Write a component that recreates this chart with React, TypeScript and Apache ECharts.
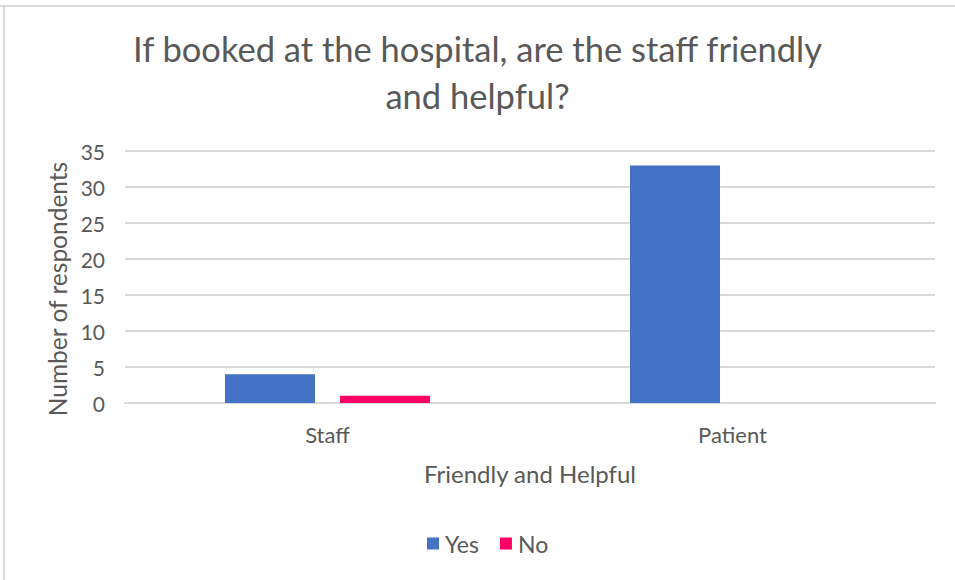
import React, { useEffect, useRef } from "react";
import * as echarts from "echarts";

const categories = ["Staff", "Patient"];
const yesValues = [4, 33];
const noValues = [1, 0];
const seriesNames = ["Yes", "No"];

const FONT = "Lato";
const GRAY = "#595959";

export default function App() {
  const ref = useRef<HTMLDivElement>(null);
  useEffect(() => {
    if (!ref.current) return;
    const chart = echarts.init(ref.current, undefined, { renderer: "svg" });
    chart.setOption({
      animation: false,
      backgroundColor: "#ffffff",
      textStyle: { fontFamily: FONT, color: GRAY },
      title: {
        text: "If booked at the hospital, are the staff friendly\nand helpful?",
        left: "center",
        top: 20,
        textStyle: { fontFamily: FONT, fontSize: 34.5, fontWeight: "normal", color: GRAY, lineHeight: 47 },
      },
      graphic: [
        { type: "line", shape: { x1: 0, y1: 6, x2: 955, y2: 6 }, style: { stroke: "#d9d9d9", lineWidth: 2 } },
        { type: "line", shape: { x1: 4, y1: 6, x2: 4, y2: 580 }, style: { stroke: "#d9d9d9", lineWidth: 2 } },
      ],
      legend: {
        data: seriesNames,
        bottom: 20,
        left: 422,
        itemWidth: 12,
        itemHeight: 12,
        itemGap: 21,
        icon: "rect",
        textStyle: { fontFamily: FONT, fontSize: 23, color: GRAY, padding: [0, 0, 0, 1] },
      },
      grid: { left: 125, right: 20, top: 151, bottom: 177 },
      xAxis: {
        type: "category",
        data: categories,
        name: "Friendly and Helpful",
        nameLocation: "middle",
        nameGap: 58,
        nameTextStyle: { fontFamily: FONT, fontSize: 24, color: GRAY },
        axisLine: { lineStyle: { color: "#d9d9d9", width: 2 } },
        axisTick: { show: false },
        axisLabel: { fontFamily: FONT, fontSize: 22, color: GRAY, margin: 20 },
      },
      yAxis: {
        type: "value",
        min: 0,
        max: 35,
        interval: 5,
        name: "Number of respondents",
        nameLocation: "middle",
        nameGap: 55,
        nameTextStyle: { fontFamily: FONT, fontSize: 24.5, color: GRAY, padding: [0, 24, 0, 0] },
        axisLine: { show: false },
        axisTick: { show: false },
        axisLabel: { fontFamily: FONT, fontSize: 21, color: GRAY, margin: 20 },
        splitLine: { lineStyle: { color: "#d9d9d9", width: 2 } },
      },
      series: [
        { name: "Yes", type: "bar", data: yesValues, barWidth: 90, barGap: "27.8%", itemStyle: { color: "#4472c4" } },
        { name: "No", type: "bar", data: noValues, barWidth: 90, barGap: "27.8%", itemStyle: { color: "#ff0066" } },
      ],
    });
    return () => chart.dispose();
  }, []);
  return (
    <div
      ref={ref}
      style={{ position: "fixed", left: 0, top: 0, width: 955, height: 580, background: "#fff" }}
    />
  );
}
